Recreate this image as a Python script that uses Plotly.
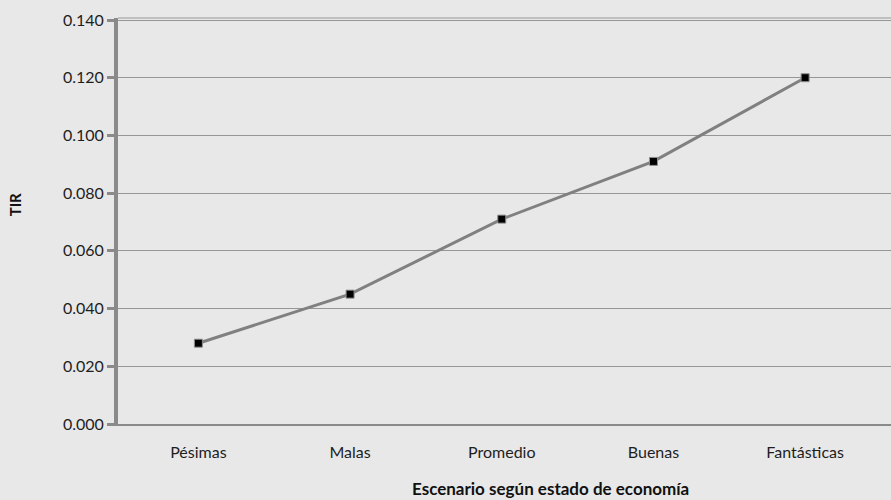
import plotly.graph_objects as go

# Escenarios económicos y tasa interna de retorno (TIR) de cada uno
escenarios = ["Pésimas", "Malas", "Promedio", "Buenas", "Fantásticas"]
tir = [0.028, 0.045, 0.071, 0.091, 0.120]
y_ticks = [0.000, 0.020, 0.040, 0.060, 0.080, 0.100, 0.120, 0.140]
y_tick_text = [f"{v:.3f}" for v in y_ticks]

BG = "#E8E8E8"
AXIS = "#8A8A8A"
GRID = "#969696"
FONT = "Lato, 'Open Sans', sans-serif"

fig = go.Figure(
    go.Scatter(
        x=list(range(len(escenarios))),
        y=tir,
        mode="lines+markers",
        line=dict(color="#808080", width=3),
        marker=dict(symbol="square", size=8, color="#000000",
                    line=dict(color="#909090", width=1)),
        hoverinfo="skip",
    )
)

fig.update_layout(
    width=891,
    height=500,
    margin=dict(l=118, r=0, t=18, b=76),
    paper_bgcolor=BG,
    plot_bgcolor=BG,
    showlegend=False,
    font=dict(family=FONT, size=16, color="#1E1E1E"),
    xaxis=dict(
        range=[-0.530, 4.566],
        tickmode="array",
        tickvals=list(range(len(escenarios))),
        ticktext=escenarios,
        ticks="",
        ticklabelstandoff=13,
        showgrid=False,
        zeroline=False,
        showline=True,
        linecolor=AXIS,
        linewidth=2,
        mirror=False,
        fixedrange=True,
    ),
    yaxis=dict(
        range=[0, 0.1407],
        tickmode="array",
        tickvals=y_ticks,
        ticktext=y_tick_text,
        ticks="outside",
        ticklen=7,
        tickwidth=3,
        tickcolor=AXIS,
        showgrid=True,
        gridcolor=GRID,
        gridwidth=1,
        zeroline=False,
        showline=True,
        linecolor=AXIS,
        linewidth=4,
        fixedrange=True,
    ),
    annotations=[
        dict(text="<b>Escenario según estado de economía</b>",
             xref="paper", yref="paper", x=0.560, y=-0.160,
             xanchor="center", yanchor="middle", showarrow=False,
             font=dict(family=FONT, size=17, color="#111111")),
        dict(text="<b>TIR</b>", textangle=-90,
             xref="paper", yref="paper", x=-0.133, y=0.539,
             xanchor="center", yanchor="middle", showarrow=False,
             font=dict(family=FONT, size=15, color="#111111")),
    ],
)

# thin border along the top of the plotting area
fig.add_shape(type="line", xref="paper", yref="paper", x0=0, x1=1, y0=1, y1=1,
              line=dict(color=GRID, width=1))

fig.write_html("out.html")
